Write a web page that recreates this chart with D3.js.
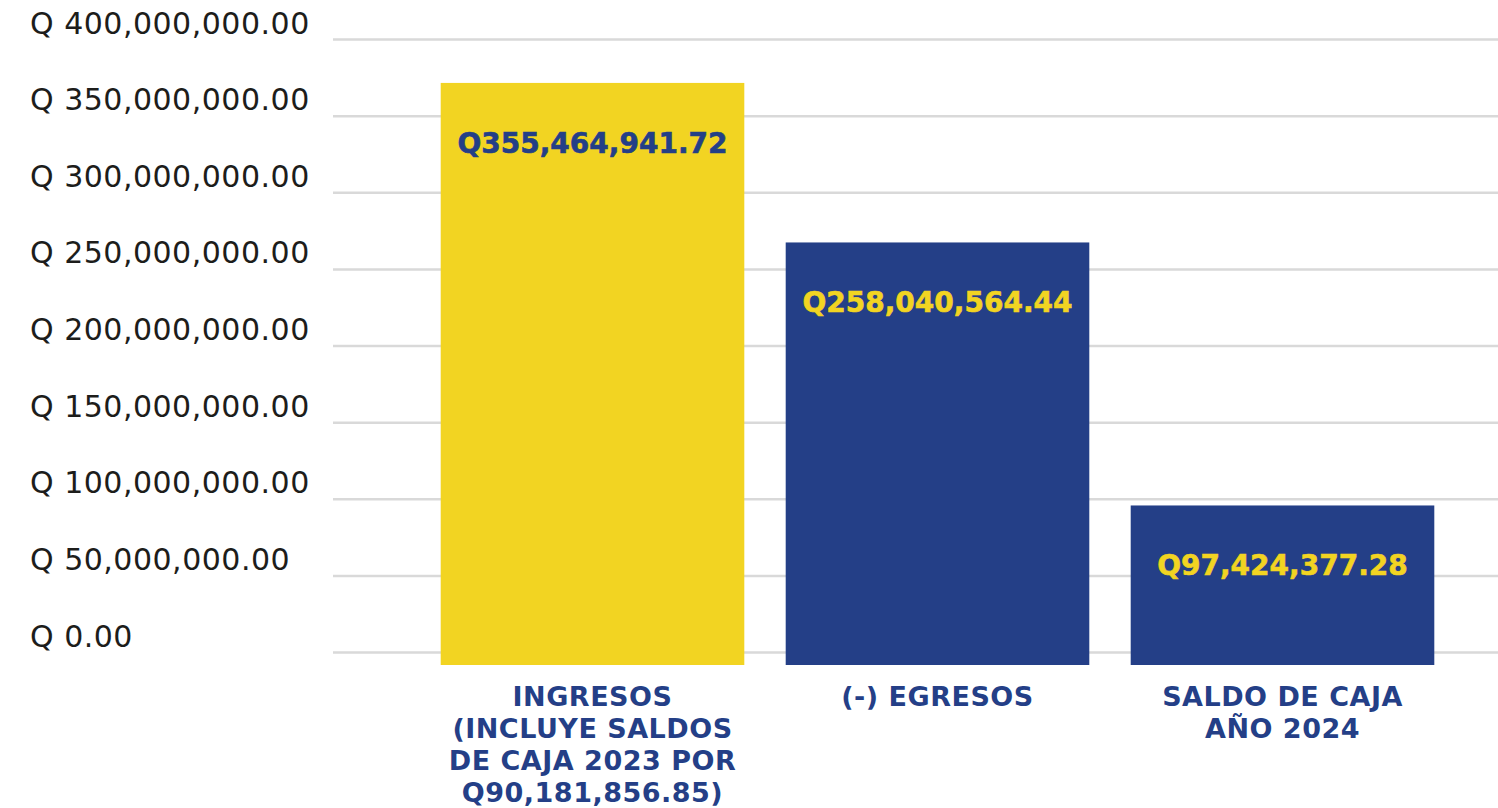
<!DOCTYPE html>
<html>
<head>
<meta charset="utf-8">
<script src="https://cdn.jsdelivr.net/npm/d3@7"></script>
<style>
  body { margin: 0; background: #fff; }
  svg { display: block; }
</style>
</head>
<body>
<div id="chart"></div>
<script>
// data
const categories = ["INGRESOS", "(-) EGRESOS", "SALDO DE CAJA"];
const categoryLines = [
  ["INGRESOS", "(INCLUYE SALDOS", "DE CAJA 2023 POR", "Q90,181,856.85)"],
  ["(-) EGRESOS"],
  ["SALDO DE CAJA", "AÑO 2024"]
];
const values = [355464941.72, 258040564.44, 97424377.28];
const tickValues = [0, 50000000, 100000000, 150000000, 200000000, 250000000, 300000000, 350000000, 400000000];

const width = 1498, height = 808;
const navy = "#243f87", yellow = "#f2d422";

const svg = d3.select("#chart")
  .append("svg")
  .attr("width", width)
  .attr("height", height);

// scale for the gridlines / axis labels
var y = d3.scaleLinear()
  .domain([0, 400000000])
  .range([652, 39]);

// bars sit on their own baseline, a bit under the zero line
var yBar = d3.scaleLinear()
  .domain([0, 400000000])
  .range([665, 10]);

var x = d3.scaleBand()
  .domain(categories)
  .range([420, 1455])
  .paddingInner(0.12)
  .paddingOuter(0.06);

var fill = d3.scaleOrdinal().domain(categories).range([yellow, navy, navy]);
var labelFill = d3.scaleOrdinal().domain(categories).range([navy, yellow, yellow]);

const money = d3.format(",.2f");

// gridlines + tick labels
const axis = svg.append("g")
  .attr("transform", "translate(333,0)")
  .call(d3.axisLeft(y)
    .tickValues(tickValues)
    .tickSize(-(width - 333))
    .tickFormat(d => "Q " + money(d)));

axis.select(".domain").remove();
axis.selectAll(".tick line")
  .attr("stroke", "#d9d9d9")
  .attr("stroke-width", 2.5);
axis.selectAll(".tick text")
  .attr("x", 30 - 333)
  .attr("dy", -6)
  .attr("text-anchor", "start")
  .attr("fill", "#1d1d1b")
  .style("font-family", "'DejaVu Sans', sans-serif")
  .style("font-size", "30px")
  .style("letter-spacing", "0.5px");

// bars
svg.selectAll(".bar")
  .data(values)
  .enter()
  .append("rect")
  .attr("class", "bar")
  .attr("x", (d, i) => x(categories[i]))
  .attr("y", d => yBar(d))
  .attr("width", x.bandwidth())
  .attr("height", d => yBar(0) - yBar(d))
  .attr("fill", (d, i) => fill(categories[i]));

// value labels inside bars
svg.selectAll(".val")
  .data(values)
  .enter()
  .append("text")
  .attr("class", "val")
  .attr("x", (d, i) => x(categories[i]) + x.bandwidth() / 2)
  .attr("y", d => yBar(d) + 70)
  .attr("text-anchor", "middle")
  .attr("fill", (d, i) => labelFill(categories[i]))
  .style("font-family", "'DejaVu Sans', sans-serif")
  .style("font-weight", "bold")
  .style("font-size", "28px")
  .style("stroke", (d, i) => labelFill(categories[i]))
  .style("stroke-width", 0.6)
  .text(d => "Q" + money(d));

// category labels under bars
const cat = svg.selectAll(".cat")
  .data(categoryLines)
  .enter()
  .append("text")
  .attr("class", "cat")
  .attr("text-anchor", "middle")
  .attr("fill", navy)
  .style("font-family", "'DejaVu Sans', sans-serif")
  .style("font-weight", "bold")
  .style("font-size", "27px")
  .style("letter-spacing", "0.5px");

cat.selectAll("tspan")
  .data((lines, i) => lines.map(l => ({ l, c: categories[i] })))
  .enter()
  .append("tspan")
  .attr("x", d => x(d.c) + x.bandwidth() / 2)
  .attr("y", (d, j) => 706 + j * 32)
  .text(d => d.l);
</script>
</body>
</html>
